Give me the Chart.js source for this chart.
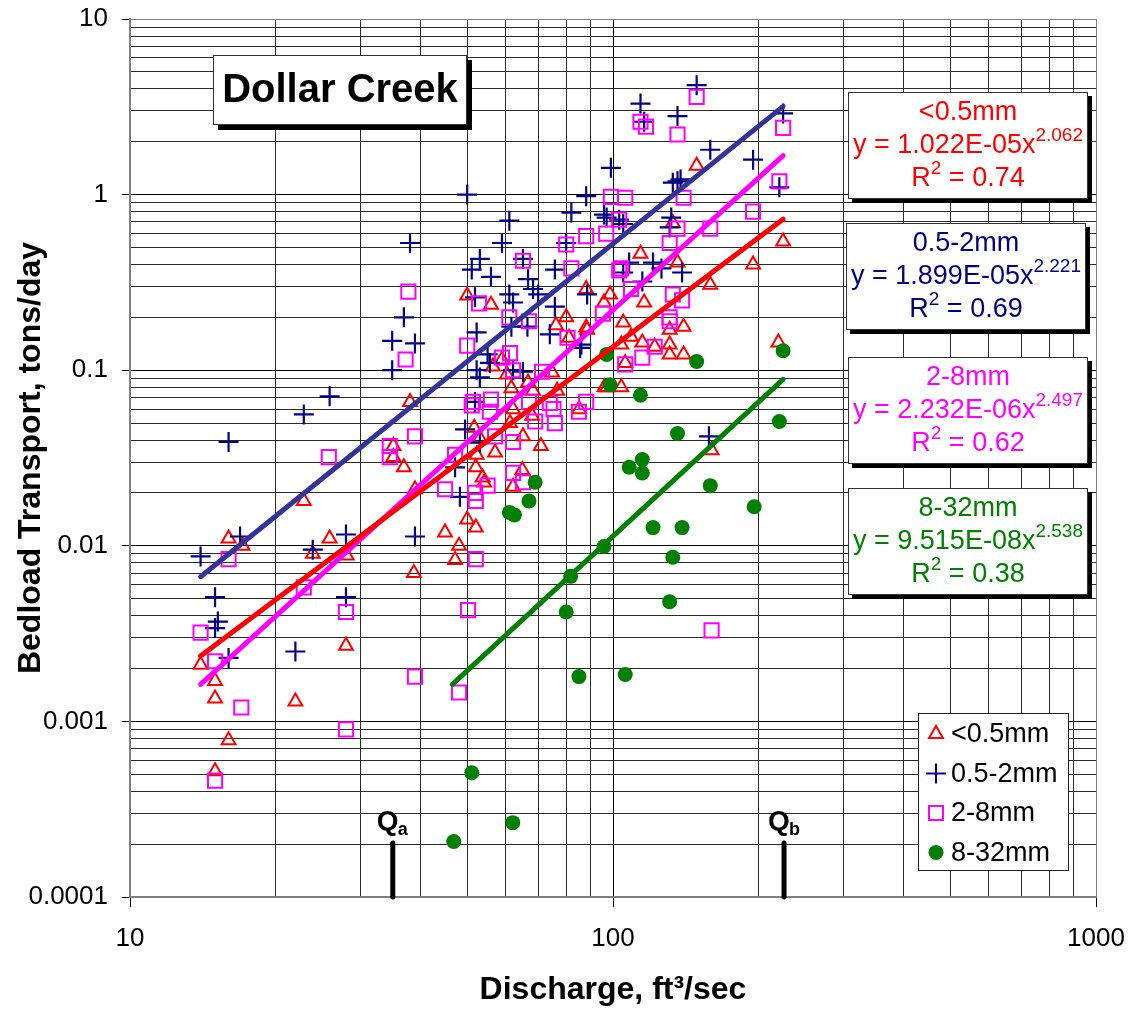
<!DOCTYPE html>
<html>
<head>
<meta charset="utf-8">
<title>Dollar Creek bedload transport</title>
<script src="https://cdn.jsdelivr.net/npm/chart.js@4.4.0/dist/chart.umd.min.js"></script>
<style>
  body { margin: 0; background: #fff; }
  #wrap { width: 1133px; height: 1012px; }
</style>
</head>
<body>
<div id="wrap"><canvas id="chart"></canvas></div>
<script>
// discharge (ft3/sec) and bedload transport (tons/day)
const fineQ = [14.0, 15.0, 15.0, 16.0, 15.0, 16.0, 17.1, 22.9, 25.9, 23.9, 28.1, 28.0, 22.0,
  38.0, 35.1, 35.1, 36.9, 38.9, 38.7, 44.9, 48.0, 47.1, 49.9, 52.0, 54.1, 62.1,
  49.9, 55.9, 88.0, 98.6, 95.8, 80.0, 76.2, 88.4, 81.1, 56.4, 58.9, 60.3, 61.6, 66.7,
  68.3, 74.8, 76.6, 97.2, 62.1, 68.0, 61.2, 65.1, 70.9, 85.1, 51.6, 53.0, 57.0, 52.2,
  52.0, 53.7, 64.9, 149, 133, 114, 136, 116, 159, 195, 225, 88.0, 105, 109, 140, 131,
  104, 115, 122, 131, 131, 140, 106, 96, 104, 220, 160];
const fineT = [0.0021, 0.0017, 0.00135, 0.00078, 0.00052, 0.011, 0.010, 0.018, 0.011, 0.0090, 0.0088, 0.0027, 0.0013,
  0.066, 0.037, 0.032, 0.028, 0.021, 0.0070, 0.0119, 0.0100, 0.0083, 0.0141, 0.0127, 0.0229, 0.0217,
  0.266, 0.236, 0.29, 0.27, 0.243, 0.20, 0.18, 0.17, 0.153, 0.105, 0.115, 0.0945, 0.079, 0.085,
  0.0765, 0.097, 0.0765, 0.080, 0.060, 0.055, 0.050, 0.042, 0.037, 0.060, 0.047, 0.041, 0.034, 0.033,
  0.028, 0.0245, 0.027, 1.46, 0.69, 0.46, 0.41, 0.243, 0.307, 0.40, 0.54, 0.175, 0.187, 0.155, 0.177, 0.17,
  0.14, 0.144, 0.136, 0.14, 0.123, 0.123, 0.11, 0.080, 0.080, 0.144, 0.035];

const sandQ = [16.0, 22.9, 25.9, 14.0, 16.9, 15.0, 15.0, 15.2, 16.0, 23.9, 28.0, 28.0, 22.0,
  38.0, 34.9, 36.9, 38.9, 38.9, 34.9, 49.9, 61.0, 58.9, 88.0, 82.0, 97.0, 95.8, 80.0,
  65.1, 53.0, 51.0, 55.9, 75.8, 66.7, 68.3, 70.0, 61.0, 51.8, 62.1, 75.8, 88.4, 52.2,
  61.6, 66.5, 74.0, 85.5, 55.0, 55.6, 52.2, 53.0, 65.1, 62.1, 51.8, 49.4, 53.0, 47.1, 48.2,
  149, 114, 116, 136, 159, 195, 225, 221, 99, 133, 136, 138, 103, 105, 131, 132,
  108, 105, 121, 126, 139, 115, 86, 158];
const sandT = [0.039, 0.056, 0.071, 0.0087, 0.0113, 0.0051, 0.0034, 0.0037, 0.0023, 0.0095, 0.0116, 0.0051, 0.0025,
  0.53, 0.147, 0.20, 0.142, 0.0113, 0.10, 1.0, 0.71, 0.53, 0.98, 0.79, 0.74, 0.77, 0.53,
  0.43, 0.43, 0.374, 0.34, 0.374, 0.33, 0.29, 0.27, 0.27, 0.26, 0.243, 0.23, 0.27, 0.164,
  0.177, 0.177, 0.16, 0.134, 0.123, 0.11, 0.10, 0.091, 0.098, 0.10, 0.066, 0.046, 0.0387, 0.028, 0.019,
  4.2, 3.3, 2.6, 2.8, 1.8, 1.58, 2.9, 1.1, 1.42, 1.17, 1.19, 1.22, 0.72, 0.68, 0.65, 0.74,
  0.41, 0.36, 0.41, 0.38, 0.36, 0.32, 0.14, 0.042];

const gravelQ = [25.8, 16.0, 14.0, 15.0, 17.0, 15.0, 22.9, 28.0, 28.0, 34.5, 34.5, 37.7, 37.2, 38.9, 38.9,
  65.1, 80.0, 88.0, 96.8, 99.0, 103, 82.0, 103, 52.8, 61.0, 67.0, 49.9, 80.5, 95.3, 58.9,
  61.2, 62.1, 71.3, 51.3, 55.9, 55.6, 67.0, 74.0, 75.3, 88.0, 85.0, 69.0, 75.8, 51.0, 57.0,
  62.1, 47.1, 62.1, 65.1, 55.0, 44.9, 51.8, 52.0, 52.0, 50.1, 48.0,
  149, 114, 117, 136, 225, 221, 106, 140, 195, 136, 159, 131, 104, 109, 133, 139, 131, 131,
  115, 122, 106, 160];
const gravelT = [0.032, 0.0084, 0.0032, 0.0022, 0.0012, 0.00046, 0.0058, 0.0042, 0.0009, 0.037, 0.032, 0.28, 0.115, 0.042, 0.0018,
  0.42, 0.52, 0.58, 0.60, 0.97, 0.72, 0.38, 0.37, 0.24, 0.20, 0.19, 0.138, 0.153, 0.21, 0.118,
  0.125, 0.10, 0.098, 0.066, 0.068, 0.058, 0.066, 0.065, 0.060, 0.066, 0.058, 0.051, 0.050, 0.063, 0.042,
  0.039, 0.033, 0.026, 0.023, 0.022, 0.021, 0.020, 0.018, 0.0084, 0.0043, 0.00146,
  3.6, 2.6, 2.44, 2.2, 2.4, 1.19, 0.96, 0.96, 0.80, 0.64, 0.64, 0.53, 0.38, 0.29, 0.27, 0.25, 0.20, 0.19,
  0.118, 0.136, 0.108, 0.0033];

const cobbleQ = [69, 67, 61, 62.5, 97, 98.6, 225, 149, 114, 136, 115, 108, 115, 159, 221, 196,
  95.8, 121, 139, 133, 131, 106, 81.7, 80, 85, 51, 62, 46.8];
const cobbleT = [0.023, 0.018, 0.0155, 0.015, 0.123, 0.0825, 0.129, 0.112, 0.072, 0.0436, 0.031, 0.028, 0.026, 0.022, 0.051, 0.0167,
  0.0099, 0.0127, 0.0127, 0.0086, 0.0048, 0.00185, 0.0067, 0.0042, 0.0018, 0.00051, 0.000265, 0.000207];

// power-law trend lines y = a x^b, as printed on the chart
const fitNames = ['<0.5mm', '0.5-2mm', '2-8mm', '8-32mm'];
const fitA = [1.022e-5, 1.899e-5, 2.232e-6, 9.515e-8];
const fitB = [2.062, 2.221, 2.497, 2.538];
const fitAText = ['1.022E-05', '1.899E-05', '2.232E-06', '9.515E-08'];
const fitBText = ['2.062', '2.221', '2.497', '2.538'];
const fitR2 = ['0.74', '0.69', '0.62', '0.38'];
const fitFrom = [14, 14, 14, 46.5];
const fitTo = [225, 225, 225, 225];

const xTickValues = [10, 100, 1000];
const xTickLabels = ['10', '100', '1000'];
const yTickValues = [0.0001, 0.001, 0.01, 0.1, 1, 10];
const yTickLabels = ['0.0001', '0.001', '0.01', '0.1', '1', '10'];

const QA = 35, QB = 226;

const markColors = ['#FF0000', '#000080', '#FF00FF', '#008000'];
const lineColors = ['#FF0000', '#333399', '#FF00FF', '#008000'];
const FONT = "'Liberation Sans', Arial, Helvetica, sans-serif";

function pts(qs, ts) { return qs.map((q, i) => ({ x: q, y: ts[i] })); }

const isDecade = v => Math.abs(Math.log10(v) - Math.round(Math.log10(v))) < 1e-6;

function logTicks(scale) {
  const out = [];
  const e0 = Math.round(Math.log10(scale.min)), e1 = Math.round(Math.log10(scale.max));
  for (let e = e0; e < e1; e++) {
    for (let m = 1; m < 10; m++) out.push({ value: parseFloat((m * Math.pow(10, e)).toPrecision(3)) });
  }
  out.push({ value: scale.max });
  scale.ticks = out;
}

function labelFor(values, labels) {
  return v => {
    const i = values.findIndex(t => Math.abs(t - v) / t < 1e-6);
    return i >= 0 ? labels[i] : '';
  };
}

function gridColor(range) {
  return c => {
    const v = c.tick.value;
    if (Math.abs(v - range.min) / v < 1e-6 || Math.abs(v - range.max) / v < 1e-6) return '#808080';
    return isDecade(v) ? '#000' : '#2a2a2a';
  };
}
const xRange = { min: 10, max: 1000 };
const yRange = { min: 0.0001, max: 10 };

const trendSets = fitNames.map((n, i) => ({
  type: 'line',
  label: n + ' fit',
  data: [fitFrom[i], fitTo[i]].map(q => ({ x: q, y: fitA[i] * Math.pow(q, fitB[i]) })),
  borderColor: lineColors[i],
  borderWidth: 5,
  borderCapStyle: 'round',
  pointRadius: 0,
  fill: false,
  order: 0
}));

const markSets = [
  { label: '<0.5mm', data: pts(fineQ, fineT), pointStyle: 'triangle', pointRadius: 8,
    borderColor: markColors[0], backgroundColor: 'rgba(0,0,0,0)', pointBorderWidth: 2, order: 4 },
  { label: '0.5-2mm', data: pts(sandQ, sandT), pointStyle: 'cross', pointRadius: 10,
    borderColor: markColors[1], backgroundColor: 'rgba(0,0,0,0)', pointBorderWidth: 2.2, order: 3 },
  { label: '2-8mm', data: pts(gravelQ, gravelT), pointStyle: 'rect', pointRadius: 10,
    borderColor: markColors[2], backgroundColor: 'rgba(0,0,0,0)', pointBorderWidth: 2, order: 2 },
  { label: '8-32mm', data: pts(cobbleQ, cobbleT), pointStyle: 'circle', pointRadius: 7.5,
    borderColor: markColors[3], backgroundColor: markColors[3], pointBorderWidth: 0, order: 1 }
];

function drawRich(ctx, parts, cx, cy) {
  let w = 0;
  parts.forEach(p => { ctx.font = p.font; p.w = ctx.measureText(p.text).width; w += p.w; });
  let x = cx - w / 2;
  ctx.textAlign = 'left';
  ctx.textBaseline = 'middle';
  parts.forEach(p => { ctx.font = p.font; ctx.fillText(p.text, x, cy + (p.dy || 0)); x += p.w; });
}

function shadowBox(ctx, l, t, w, h, off) {
  ctx.fillStyle = '#000';
  ctx.fillRect(l + off, t + off, w, h);
  ctx.fillStyle = '#fff';
  ctx.fillRect(l, t, w, h);
  ctx.strokeStyle = '#333';
  ctx.lineWidth = 1;
  ctx.strokeRect(l + 0.5, t + 0.5, w - 1, h - 1);
}

function marker(ctx, style, x, y, color) {
  ctx.save();
  ctx.strokeStyle = color;
  ctx.fillStyle = color;
  ctx.lineWidth = 2;
  ctx.beginPath();
  if (style === 'triangle') {
    const r = 8;
    for (let k = 0; k < 3; k++) {
      const a = k * 2 * Math.PI / 3;
      const px = x + Math.sin(a) * r, py = y - Math.cos(a) * r;
      k ? ctx.lineTo(px, py) : ctx.moveTo(px, py);
    }
    ctx.closePath();
    ctx.stroke();
  } else if (style === 'cross') {
    ctx.moveTo(x - 10, y); ctx.lineTo(x + 10, y);
    ctx.moveTo(x, y - 10); ctx.lineTo(x, y + 10);
    ctx.stroke();
  } else if (style === 'rect') {
    ctx.rect(x - 7, y - 7, 14, 14);
    ctx.stroke();
  } else {
    ctx.arc(x, y, 7.5, 0, Math.PI * 2);
    ctx.fill();
  }
  ctx.restore();
}

const notes = {
  id: 'notes',
  afterDraw(chart) {
    const ctx = chart.ctx;
    const xs = chart.scales.x;
    const area = chart.chartArea;
    ctx.save();

    // site name
    shadowBox(ctx, 213, 55, 254, 70, 5);
    ctx.fillStyle = '#000';
    drawRich(ctx, [{ text: 'Dollar Creek', font: 'bold 40px ' + FONT }], 340, 91);

    // equation boxes
    const tops = [92, 223, 357, 488];
    const lefts = [848, 846, 848, 848];
    fitNames.forEach((n, i) => {
      shadowBox(ctx, lefts[i], tops[i], 240, 107, 4);
      ctx.fillStyle = markColors[i];
      const cx = lefts[i] + 120;
      drawRich(ctx, [{ text: n, font: '27px ' + FONT }], cx, tops[i] + 21);
      drawRich(ctx, [
        { text: 'y = ' + fitAText[i] + 'x', font: '27px ' + FONT },
        { text: fitBText[i], font: '19px ' + FONT, dy: -10 }
      ], cx, tops[i] + 54);
      drawRich(ctx, [
        { text: 'R', font: '27px ' + FONT },
        { text: '2', font: '19px ' + FONT, dy: -10 },
        { text: ' = ' + fitR2[i], font: '27px ' + FONT }
      ], cx, tops[i] + 87);
    });

    // legend
    ctx.fillStyle = '#fff';
    ctx.fillRect(918, 713, 150, 157);
    ctx.strokeStyle = '#222';
    ctx.lineWidth = 1;
    ctx.strokeRect(918.5, 713.5, 150, 157);
    const styles = ['triangle', 'cross', 'rect', 'circle'];
    fitNames.forEach((n, i) => {
      const yy = 734 + i * 39.5;
      marker(ctx, styles[i], 936, yy, markColors[i]);
      ctx.fillStyle = '#000';
      ctx.font = '27px ' + FONT;
      ctx.textAlign = 'left';
      ctx.textBaseline = 'middle';
      ctx.fillText(n, 951, yy + 1);
    });

    // Qa / Qb markers
    [[QA, 'a'], [QB, 'b']].forEach(([q, s]) => {
      const px = xs.getPixelForValue(q);
      ctx.strokeStyle = '#000';
      ctx.lineWidth = 5;
      ctx.lineCap = 'round';
      ctx.beginPath();
      ctx.moveTo(px, area.bottom - 54);
      ctx.lineTo(px, area.bottom);
      ctx.stroke();
      ctx.fillStyle = '#000';
      ctx.font = 'bold 28px ' + FONT;
      ctx.textAlign = 'left';
      ctx.textBaseline = 'alphabetic';
      ctx.fillText('Q', px - 16, 830);
      ctx.font = 'bold 18px ' + FONT;
      ctx.fillText(s, px + 5, 835);
    });
    ctx.restore();
  }
};

new Chart(document.getElementById('chart'), {
  type: 'scatter',
  data: { datasets: [...trendSets, ...markSets] },
  options: {
    responsive: true,
    maintainAspectRatio: false,
    animation: false,
    events: [],
    layout: { autoPadding: false, padding: { top: 19, right: 37, left: 0, bottom: 0 } },
    plugins: { legend: { display: false }, tooltip: { enabled: false } },
    scales: {
      x: {
        type: 'logarithmic',
        min: xRange.min,
        max: xRange.max,
        afterBuildTicks: logTicks,
        afterFit: s => { s.height = 115; s.paddingLeft = 0; s.paddingRight = 0; },
        border: { color: '#808080', width: 2 },
        grid: {
          color: gridColor(xRange),
          lineWidth: 1,
          tickLength: 10,
          tickColor: c => isDecade(c.tick.value) ? '#000' : 'rgba(0,0,0,0)'
        },
        ticks: {
          autoSkip: false,
          maxRotation: 0,
          padding: 16,
          color: '#000',
          font: { family: FONT, size: 26 },
          callback: labelFor(xTickValues, xTickLabels)
        },
        title: {
          display: true,
          text: 'Discharge, ft\u00B3/sec',
          color: '#000',
          font: { family: FONT, size: 32, weight: 'bold' },
          padding: { top: 0, bottom: 3 }
        }
      },
      y: {
        type: 'logarithmic',
        min: yRange.min,
        max: yRange.max,
        afterBuildTicks: logTicks,
        afterFit: s => { s.width = 130; s.paddingTop = 0; s.paddingBottom = 0; },
        border: { color: '#808080', width: 2 },
        grid: {
          color: gridColor(yRange),
          lineWidth: 1,
          tickLength: 8,
          tickColor: c => isDecade(c.tick.value) ? '#000' : 'rgba(0,0,0,0)'
        },
        ticks: {
          autoSkip: false,
          padding: 14,
          color: '#000',
          font: { family: FONT, size: 26 },
          callback: labelFor(yTickValues, yTickLabels)
        },
        title: {
          display: true,
          text: 'Bedload Transport, tons/day',
          color: '#000',
          font: { family: FONT, size: 32, weight: 'bold' },
          padding: { top: 12, bottom: 0 }
        }
      }
    }
  },
  plugins: [notes]
});
</script>
</body>
</html>
